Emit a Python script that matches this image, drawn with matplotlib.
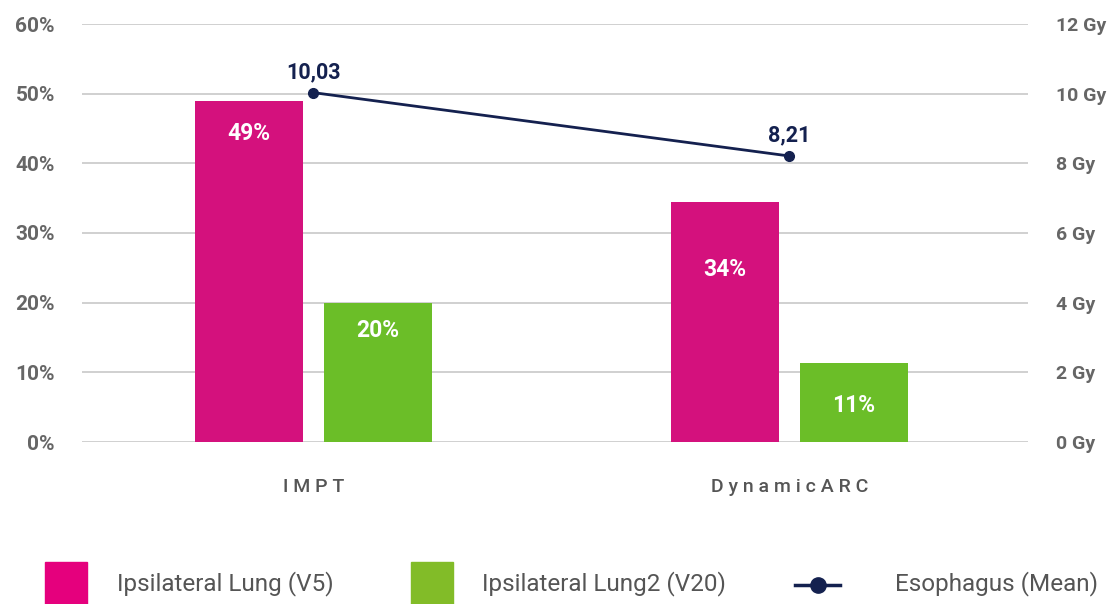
import matplotlib
matplotlib.use("Agg")
import matplotlib.pyplot as plt
from matplotlib.patches import Rectangle
from matplotlib.lines import Line2D
import numpy as np

plt.rcParams['font.family'] = ['Roboto', 'DejaVu Sans']

categories = ["IMPT", "DynamicARC"]
lung_v5 = [49, 34.5]
lung_v20 = [20, 11.3]
esophagus_mean = [10.03, 8.21]
v5_label_pos = [44.3, 24.8]
v20_label_pos = [16.0, 5.2]
left_ticks = [0, 10, 20, 30, 40, 50, 60]
right_ticks = [0, 2, 4, 6, 8, 10, 12]
series_names = ["Ipsilateral Lung (V5)", "Ipsilateral Lung2 (V20)", "Esophagus (Mean)"]

c_v5 = "#D4117D"
c_v20 = "#6BBE28"
c_v5_leg = "#E5007D"
c_v20_leg = "#82BC28"
c_line = "#14214F"
c_tick = "#666666"

W, H = 1109, 604
fig = plt.figure(figsize=(W / 100, H / 100), dpi=100)
ax = fig.add_axes([82 / W, 1 - 442 / H, (1028 - 82) / W, (442 - 24) / H])
ax2 = ax.twinx()

x = np.arange(len(categories))
bw = 0.227
off = 0.1355
ax.bar(x - off, lung_v5, bw, color=c_v5, zorder=3)
ax.bar(x + off, lung_v20, bw, color=c_v20, zorder=3)

for xi, v, p in zip(x, lung_v5, v5_label_pos):
    ax.text(xi - off, p, f"{int(v)}%", ha="center", va="center", color="white",
            fontsize=16.5, fontweight="bold", zorder=4)
for xi, v, p in zip(x, lung_v20, v20_label_pos):
    ax.text(xi + off, p, f"{int(v)}%", ha="center", va="center", color="white",
            fontsize=16.5, fontweight="bold", zorder=4)

ax.set_xlim(-0.486, 1.501)
ax.set_ylim(0, 60)
ax.set_yticks(left_ticks)
ax.set_yticklabels([f"{t}%" for t in left_ticks])
ax.grid(axis="y", color="#c8c8c8", linewidth=1.2, zorder=0)
ax.set_axisbelow(True)
for s in ax.spines.values():
    s.set_visible(False)
for s in ax2.spines.values():
    s.set_visible(False)
ax.tick_params(axis="y", length=0, pad=19.5, labelsize=15, labelcolor=c_tick)
for lab in ax.get_yticklabels():
    lab.set_fontweight("bold")
ax.set_xticks(x)
ax.set_xticklabels([" ".join(c) for c in categories])
ax.tick_params(axis="x", length=0, pad=26, labelsize=14, labelcolor="#555555")
for lab in ax.get_xticklabels():
    lab.set_fontweight("medium")

ax2.plot(x, esophagus_mean, color=c_line, linewidth=2, marker="o", markersize=7, zorder=5)
ax2.set_ylim(0, 12)
ax2.set_yticks(right_ticks)
ax2.set_yticklabels([f"{t} Gy" for t in right_ticks])
ax2.tick_params(axis="y", length=0, pad=20, labelsize=14, labelcolor=c_tick)
for lab in ax2.get_yticklabels():
    lab.set_fontweight("bold")
for xi, v in zip(x, esophagus_mean):
    ax2.annotate(f"{v:.2f}".replace(".", ","), (xi, v), xytext=(0, 7),
                 textcoords="offset points", ha="center", va="bottom",
                 color=c_line, fontsize=15.5, fontweight="bold")

# legend
def fx(px):
    return px / W
def fy(py):
    return 1 - py / H

fig.patches.append(Rectangle((fx(45), fy(604)), 42 / W, 42 / H, transform=fig.transFigure,
                             color=c_v5_leg))
fig.patches.append(Rectangle((fx(411), fy(604)), 42 / W, 42 / H, transform=fig.transFigure,
                             color=c_v20_leg))
fig.lines.append(Line2D([fx(795), fx(840)], [fy(585), fy(585)], transform=fig.transFigure,
                        color=c_line, linewidth=2.5, marker=None))
fig.lines.append(Line2D([fx(817.5)], [fy(585)], transform=fig.transFigure,
                        color=c_line, marker="o", markersize=11))
for px, name in zip([117, 482, 895], series_names):
    fig.text(fx(px), fy(584), name, ha="left", va="center", fontsize=17.5,
             color="#555555", fontweight="normal")

fig.savefig("out.png", dpi=100)
